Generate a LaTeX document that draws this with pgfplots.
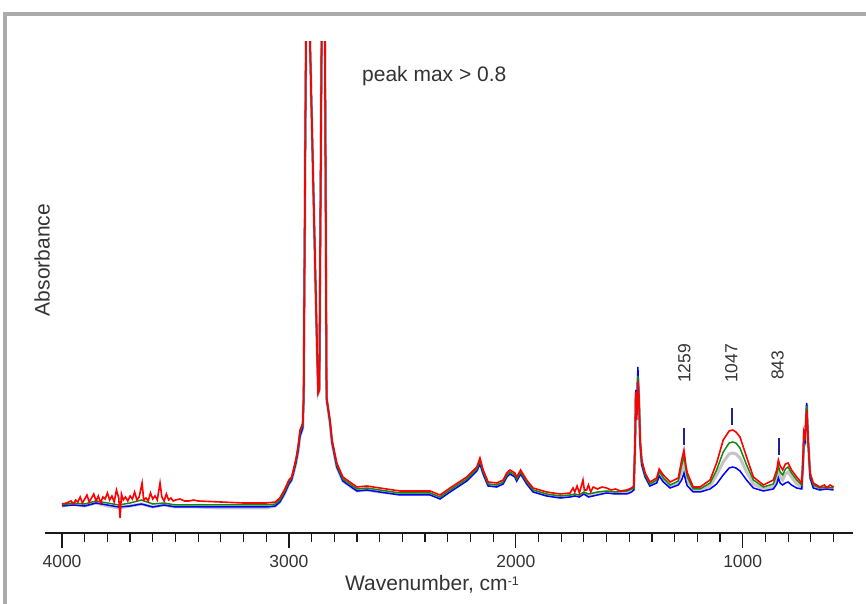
\documentclass[border=0pt]{standalone}
\usepackage{fontspec}
\setmainfont{Liberation Sans}
\usepackage{pgfplots}
\pgfplotsset{compat=1.18}
\definecolor{txt}{HTML}{333333}
\definecolor{frame}{HTML}{ABABAB}
\definecolor{sred}{HTML}{FF0000}
\definecolor{sgreen}{HTML}{138A13}
\definecolor{sblue}{HTML}{0000FF}
\definecolor{sgray}{HTML}{C4C4C4}
\definecolor{navy}{HTML}{1E2496}
\begin{document}
\begin{tikzpicture}
\useasboundingbox (-45pt,-71pt) rectangle (821pt,533pt);
\begin{axis}[
  at={(0,0)}, anchor=south west, scale only axis,
  width=808pt, height=491pt,
  x dir=reverse, xmin=514, xmax=4075, ymin=0, ymax=491,
  axis x line=bottom, axis y line=none,
  axis line style={-, line width=1.8pt, color=black!90},
  every outer x axis line/.append style={-},
  xtick={1000,2000,3000,4000},
  minor xtick={600,700,800,900,1100,1200,1300,1400,1500,1600,1700,1800,1900,2100,2200,2300,2400,2500,2600,2700,2800,2900,3100,3200,3300,3400,3500,3600,3700,3800,3900},
  ytick=\empty,
  tick align=outside, major tick length=15pt, minor tick length=9pt,
  every tick/.style={black!90, line width=1.2pt},
  xticklabel style={font=\fontsize{17.5}{19}\selectfont, text=txt, yshift=-4pt},
  /pgf/number format/assume math mode=true,
  /pgf/number format/1000 sep={},
  clip mode=individual,
]
% gray
\addplot[sgray, line width=3pt] table {
x y
4000 27
3950 29
3900 27
3850 30
3800 27
3750 25
3700 27
3650 29
3600 26
3550 28
3500 26
3400 26
3300 25
3200 25
3100 25
3060 27
3040 31
3020 39
3000 49
2988 53
2970 69
2960 81
2951 97
2939 105
2935 133
2925 491
2916 780
2907 491
2878 203
2871 140
2866 143
2856 491
2851 720
2841 491
2834 134
2819 110
2810 90
2789 66
2762 52
2744 49
2700 42
2656 43
2599 41
2510 39
2378 39
2334 35
2290 42
2216 53
2172 63
2158 71
2144 60
2122 48
2084 47
2056 50
2040 57
2026 60
2004 57
1996 53
1979 60
1952 50
1924 42
1864 38
1805 36
1761 37
1740 38
1720 37
1700 40
1680 38
1660 39
1640 40
1600 41
1560 40
1511 41
1490 43
1480 44
1474 93
1471 141
1467 118
1462 155
1456 125
1452 90
1445 70
1430 57
1409 48
1379 52
1368 60
1350 53
1320 46
1284 50
1269 63
1259 71
1250 58
1244 52
1218 43
1188 43
1144 47
1115 58
1086 71
1060 79
1044 80
1030 79
1012 75
983 61
953 49
909 44
865 46
850 55
843 63
835 56
824 53
812 59
800 61
785 56
762 49
740 46
733 76
730 99
725 95
718 128
712 93
703 57
689 47
660 44
630 45
600 44
};
% blue
\addplot[sblue, line width=1.5pt] table {
x y
4000 27
3950 28
3900 27
3850 30
3800 28
3750 26
3700 27
3650 29
3600 26
3550 28
3500 26
3400 26
3300 26
3200 26
3100 26
3060 27
3040 31
3020 39
3000 49
2988 53
2970 69
2960 81
2951 97
2939 105
2935 133
2925 491
2916 780
2907 491
2878 205
2871 142
2866 145
2856 491
2851 720
2841 491
2834 134
2819 110
2810 90
2789 66
2762 52
2744 49
2700 42
2656 43
2599 41
2510 38
2378 38
2334 34
2290 41
2216 52
2172 62
2158 69
2144 59
2122 47
2084 46
2056 49
2040 56
2026 59
2004 56
1996 52
1979 59
1952 49
1924 41
1864 37
1805 35
1761 36
1740 37
1720 36
1700 39
1680 36
1660 37
1640 38
1600 40
1560 39
1511 39
1490 41
1480 43
1474 93
1471 143
1467 123
1462 166
1456 123
1452 88
1445 68
1430 56
1409 47
1379 50
1368 57
1350 51
1320 45
1284 48
1269 53
1259 60
1250 51
1244 47
1218 41
1188 41
1144 44
1115 49
1086 58
1060 65
1044 66
1030 65
1012 62
983 53
953 45
909 42
865 44
850 49
843 55
835 50
824 48
812 50
800 51
785 48
762 45
740 44
733 73
730 98
725 93
718 130
712 93
703 55
689 45
660 43
630 44
600 43
};
% green
\addplot[sgreen, line width=1.5pt] table {
x y
4000 28
3950 30
3900 29
3850 32
3800 30
3750 28
3700 30
3650 33
3600 29
3550 30
3500 28
3400 28
3300 28
3200 28
3100 28
3060 29
3040 33
3020 41
3000 51
2988 55
2970 71
2960 84
2951 101
2939 108
2935 135
2925 491
2916 780
2907 491
2878 203
2871 140
2866 143
2856 491
2851 720
2841 491
2834 135
2819 112
2810 92
2789 68
2762 54
2744 51
2700 44
2656 45
2599 43
2510 40
2378 40
2334 36
2290 43
2216 54
2172 64
2158 72
2144 61
2122 49
2084 48
2056 51
2040 58
2026 61
2004 58
1996 54
1979 61
1952 51
1924 43
1864 39
1805 37
1761 38
1740 39
1720 38
1700 41
1680 39
1660 40
1640 41
1600 42
1560 41
1511 42
1490 44
1480 45
1474 93
1471 141
1467 118
1462 157
1456 128
1452 91
1445 71
1430 58
1409 49
1379 53
1368 62
1350 55
1320 48
1284 52
1269 68
1259 77
1250 63
1244 56
1218 44
1188 44
1144 50
1115 63
1086 81
1060 90
1044 91
1030 90
1012 85
983 68
953 53
909 46
865 49
850 59
843 67
835 61
824 58
812 64
800 66
785 60
762 53
740 48
733 78
730 100
725 96
718 127
712 93
703 58
689 48
660 45
630 46
600 45
};
% red
\addplot[sred, line width=1.6pt] table {
x y
4000 29
3980 30
3960 32
3950 29
3940 33
3930 31
3920 36
3910 30
3900 34
3890 38
3880 31
3870 35
3860 39
3850 32
3840 37
3830 30
3820 36
3810 34
3800 40
3790 33
3780 37
3770 31
3760 43
3750 35
3744 15
3738 39
3730 33
3720 36
3710 32
3700 37
3690 34
3680 41
3670 33
3660 36
3647 50
3640 33
3630 35
3620 32
3610 40
3600 34
3590 37
3580 33
3568 50
3560 36
3550 32
3540 39
3530 33
3520 35
3510 32
3500 33
3480 34
3460 32
3440 32
3420 33
3400 32
3300 31
3200 30
3100 30
3060 31
3040 35
3020 43
3000 53
2988 56
2970 73
2960 86
2951 103
2939 110
2935 136
2925 491
2916 780
2907 491
2878 203
2871 140
2866 143
2856 491
2851 720
2841 491
2834 136
2819 113
2810 93
2789 70
2762 56
2744 53
2700 46
2656 47
2599 45
2510 42
2378 42
2334 38
2290 45
2216 56
2172 66
2158 75
2144 63
2122 51
2084 50
2056 53
2040 60
2026 63
2004 60
1996 56
1979 63
1952 53
1924 45
1864 41
1805 39
1761 40
1748 45
1740 41
1730 47
1720 40
1710 48
1704 53
1698 43
1688 43
1680 48
1670 41
1659 46
1640 44
1620 46
1600 45
1580 43
1560 44
1540 42
1511 43
1490 45
1480 47
1474 93
1471 141
1467 113
1461 152
1456 123
1452 93
1445 73
1430 60
1409 51
1379 55
1368 64
1350 58
1320 51
1284 55
1269 73
1259 83
1250 67
1244 60
1218 46
1188 46
1144 53
1115 70
1086 93
1060 102
1044 103
1030 101
1012 96
983 76
953 56
909 48
865 53
850 63
843 73
835 67
824 63
812 69
800 70
785 63
762 56
740 50
733 83
730 101
725 97
718 123
712 93
703 60
689 50
660 46
640 48
630 45
615 48
600 46
};
% annotation marks
\draw[navy, line width=1.4pt] (axis cs:1259,88) -- (axis cs:1259,105);
\draw[navy, line width=1.4pt] (axis cs:1047,108) -- (axis cs:1047,125);
\draw[navy, line width=1.4pt] (axis cs:840,78) -- (axis cs:840,95);
\node[rotate=90, anchor=west, inner sep=0pt, text=txt, font=\fontsize{17.5}{20}\selectfont] at (axis cs:1257,150) {1259};
\node[rotate=90, anchor=west, inner sep=0pt, text=txt, font=\fontsize{17.5}{20}\selectfont] at (axis cs:1050,150) {1047};
\node[rotate=90, anchor=west, inner sep=0pt, text=txt, font=\fontsize{17.5}{20}\selectfont] at (axis cs:846,153) {843};
\node[anchor=base west, inner sep=0pt, text=txt, font=\fontsize{21}{24}\selectfont] at (axis cs:2678,451) {peak max > 0.8};
\node[anchor=base west, inner sep=0pt, text=txt, font=\fontsize{21}{24}\selectfont] at (axis cs:2753,-57) {Wavenumber, cm\raisebox{4.5pt}{\fontsize{12.5}{14}\selectfont -1}};
\node[rotate=90, anchor=center, inner sep=0pt, text=txt, font=\fontsize{21}{24}\selectfont] at (axis cs:4088,273) {Absorbance};
\end{axis}
\draw[frame, line width=4pt] (-39.5pt,-80pt) -- (-39.5pt,519pt) -- (830pt,519pt);
\end{tikzpicture}
\end{document}
